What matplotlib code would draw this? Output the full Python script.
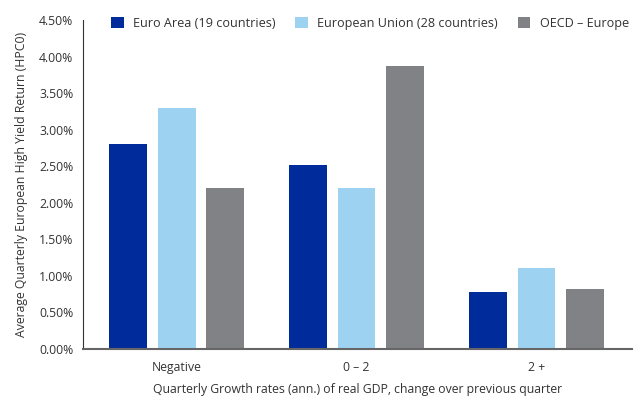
import matplotlib
matplotlib.use('Agg')
import matplotlib.pyplot as plt
import numpy as np
from matplotlib.ticker import FuncFormatter

categories = ['Negative', '0 – 2', '2 +']
series_names = ['Euro Area (19 countries)', 'European Union (28 countries)', 'OECD – Europe']
euro_area = [2.80, 2.51, 0.78]
european_union = [3.30, 2.20, 1.11]
oecd_europe = [2.20, 3.87, 0.82]
colors = ['#002B9A', '#9DD3F1', '#808285']

plt.rcParams['font.family'] = ['Open Sans', 'DejaVu Sans']

fig = plt.figure(figsize=(6.44, 4.01), dpi=100)
ax = fig.add_axes([0.129, 0.130, 0.852, 0.820])

x = np.arange(len(categories))
width = 0.21
step = 0.27
for i, (vals, name, c) in enumerate(zip([euro_area, european_union, oecd_europe], series_names, colors)):
  ax.bar(x + (i - 1) * step, vals, width, color=c, label=name, zorder=2)

ax.set_xlim(-0.52, 2.53)
ax.set_ylim(0, 4.5)
ax.set_yticks(np.arange(0, 4.51, 0.5))
ax.yaxis.set_major_formatter(FuncFormatter(lambda v, p: f'{v:.2f}%'))
ax.set_xticks(x)
ax.set_xticklabels(categories)
ax.tick_params(axis='both', length=0, labelsize=8.8, colors='#333333', pad=9)
ax.tick_params(axis='y', pad=7)

for s in ['top', 'right']:
  ax.spines[s].set_visible(False)
ax.spines['left'].set_color('#333333')
ax.spines['bottom'].set_color('#666666')
ax.spines['bottom'].set_linewidth(1.5)

ax.set_ylabel('Average Quarterly European High Yield Return (HPC0)', fontsize=8.8, color='#333333',
              labelpad=8)
ax.set_xlabel('Quarterly Growth rates (ann.) of real GDP, change over previous quarter', fontsize=8.8,
              color='#333333', labelpad=6)

ax.legend(loc='upper left', bbox_to_anchor=(0.03, 1.045), ncol=3, frameon=False, fontsize=9.1,
          handlelength=1.0, handleheight=1.0, columnspacing=1.55, handletextpad=0.75,
          labelcolor='#333333')

fig.savefig('out.png', dpi=100)
